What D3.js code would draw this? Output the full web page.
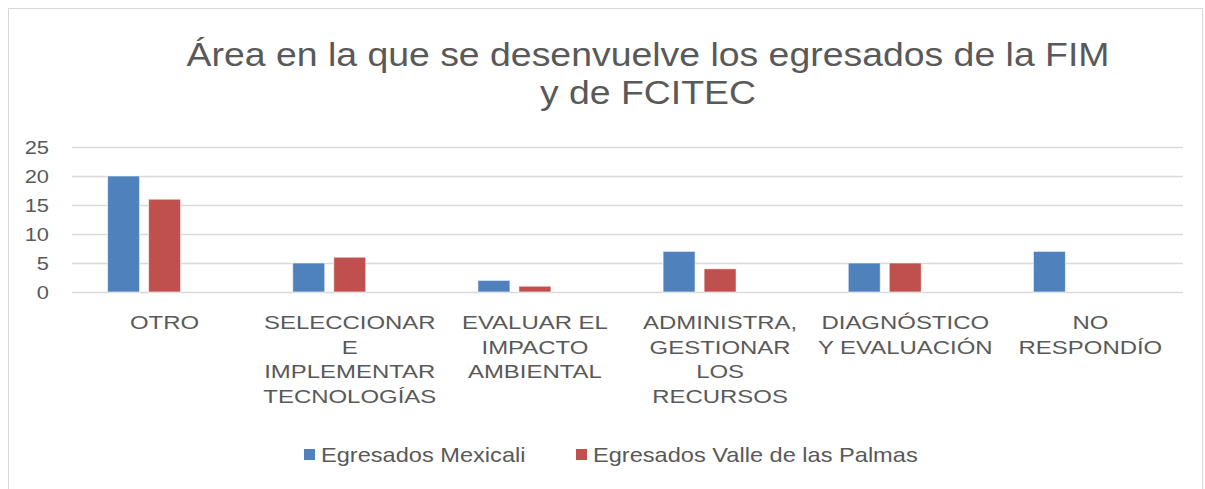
<!DOCTYPE html>
<html>
<head>
<meta charset="utf-8">
<script src="https://cdn.jsdelivr.net/npm/d3@7"></script>
<style>
  html, body { margin: 0; padding: 0; background: #fff; }
  svg { display: block; font-family: "Liberation Sans", Arial, sans-serif; }
</style>
</head>
<body>
<svg id="chart" width="1205" height="489"></svg>
<script>
// Category labels (line breaks as in the original)
const categories = [
    'OTRO',
    'SELECCIONAR\nE\nIMPLEMENTAR\nTECNOLOGÍAS',
    'EVALUAR EL\nIMPACTO\nAMBIENTAL',
    'ADMINISTRA,\nGESTIONAR\nLOS\nRECURSOS',
    'DIAGNÓSTICO\nY EVALUACIÓN',
    'NO\nRESPONDÍO'
];
const seriesNames = ['Egresados Mexicali', 'Egresados Valle de las Palmas'];
const mexicali = [20, 5, 2, 7, 5, 7];
const vallePalmas = [16, 6, 1, 4, 5, 0];
const yTicks = [0, 5, 10, 15, 20, 25];
const colors = ['#4F81BD', '#C0504D'];

const svg = d3.select('#chart');
const width = 1205, height = 489;
const margin = { top: 147, right: 22, bottom: 197, left: 72 };
const plotW = width - margin.left - margin.right;
const plotH = height - margin.top - margin.bottom;

// the source picture is stretched sideways, so text gets a horizontal scale
const stretch = 1.26;

// chart frame
svg.append('rect')
    .attr('x', 8.5).attr('y', 8.5)
    .attr('width', 1194).attr('height', 490)
    .attr('fill', '#fff')
    .attr('stroke', '#d9d9d9');

// title
const title = svg.append('g')
    .attr('transform', 'translate(648,0) scale(1.1,1)')
    .append('text')
    .attr('text-anchor', 'middle')
    .style('font-size', '34px')
    .style('fill', '#595959');
title.append('tspan').attr('x', 0).attr('y', 66)
    .text('Área en la que se desenvuelve los egresados de la FIM');
title.append('tspan').attr('x', 0).attr('y', 104)
    .text('y de FCITEC');

const g = svg.append('g')
    .attr('transform', `translate(${margin.left},${margin.top})`);

const x0 = d3.scaleBand()
    .domain(d3.range(categories.length))
    .range([0, plotW]);

// three slots per cluster (Excel leaves room for an empty third series)
const x1 = d3.scaleBand()
    .domain([0, 1, 2])
    .range([-57, 57])
    .paddingInner(9 / 41);

const y = d3.scaleLinear()
    .domain([0, 25])
    .range([plotH, 0]);

// gridlines
g.append('g')
    .selectAll('line')
    .data(yTicks)
    .join('line')
    .attr('x1', 0).attr('x2', plotW)
    .attr('y1', d => Math.round(y(d)) + 0.5)
    .attr('y2', d => Math.round(y(d)) + 0.5)
    .attr('stroke', '#d9d9d9')
    .attr('stroke-width', 1.5);

// y axis labels
g.append('g')
    .selectAll('text')
    .data(yTicks)
    .join('text')
    .attr('transform', d => `translate(-23,${y(d)}) scale(1.15,1)`)
    .attr('dy', '0.35em')
    .attr('text-anchor', 'end')
    .style('font-size', '19px')
    .style('fill', '#595959')
    .text(d => d);

// bars
const series = [mexicali, vallePalmas];
series.forEach((vals, si) => {
    g.append('g')
        .selectAll('rect')
        .data(vals)
        .join('rect')
        .filter(d => d > 0)
        .attr('x', (d, i) => x0(i) + x0.bandwidth() / 2 + x1(si))
        .attr('y', d => y(d))
        .attr('width', x1.bandwidth())
        .attr('height', d => plotH - y(d))
        .attr('fill', colors[si])
        .attr('stroke', '#fff')
        .attr('stroke-opacity', 0.6)
        .attr('stroke-width', 1);
});

// category labels
categories.forEach((c, i) => {
    const t = g.append('g')
        .attr('transform', `translate(${x0(i) + x0.bandwidth() / 2},${plotH}) scale(${stretch},1)`)
        .append('text')
        .attr('text-anchor', 'middle')
        .style('font-size', '19px')
        .style('fill', '#595959');
    c.split('\n').forEach((line, li) => {
        t.append('tspan')
            .attr('x', 0)
            .attr('y', 37 + li * 24.6)
            .text(line);
    });
});

// legend
const legend = svg.append('g').attr('transform', 'translate(304,462)');
const legendX = [0, 272];
seriesNames.forEach((name, i) => {
    const lg = legend.append('g').attr('transform', `translate(${legendX[i]},0)`);
    lg.append('rect')
        .attr('x', 0).attr('y', -13)
        .attr('width', 11).attr('height', 11)
        .attr('fill', colors[i]);
    lg.append('text')
        .attr('transform', 'translate(17,0) scale(1.18,1)')
        .style('font-size', '20px')
        .style('fill', '#595959')
        .text(name);
});
</script>
</body>
</html>
